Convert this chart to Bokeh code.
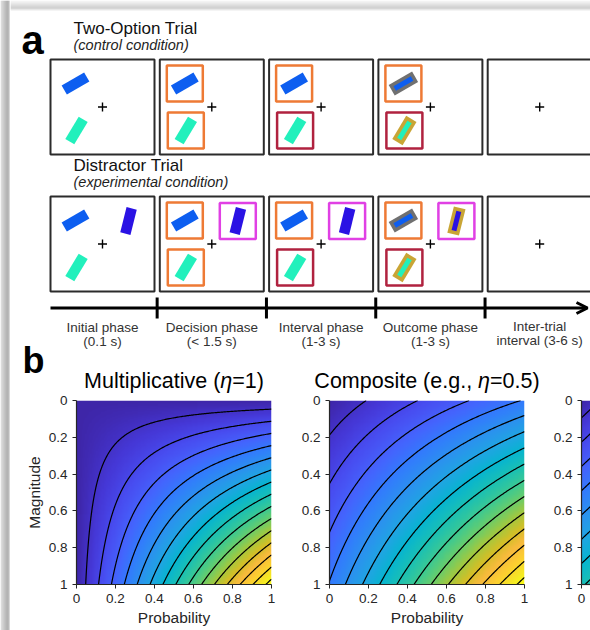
import numpy as np
from bokeh.plotting import figure
from bokeh.layouts import column, row
from bokeh.models import (Range1d, FixedTicker, NumeralTickFormatter, Arrow,
                          OpenHead, LinearColorMapper)
from bokeh.core.properties import value
from bokeh.embed import file_html
from bokeh.resources import INLINE

# ---------------- data ----------------
phase_names = ["Initial phase", "Decision phase", "Interval phase", "Outcome phase", "Inter-trial"]
phase_durations = ["(0.1 s)", "(< 1.5 s)", "(1-3 s)", "(1-3 s)", "interval (3-6 s)"]
trial_titles = ["Two-Option Trial", "Distractor Trial"]
trial_subtitles = ["(control condition)", "(experimental condition)"]

# stimulus state per phase
stim_visible = [True, True, True, True, False]
frame_chosen = [None, "orange", "orange", "orange", None]
frame_unchosen = [None, "orange", "darkred", "darkred", None]
frame_distractor = [None, "magenta", "magenta", "magenta", None]
outcome_shown = [False, False, False, True, False]

eta_values = [1.0, 0.5, 0.0]
# title pieces: (before, italic symbol, after)
panel_titles = [("Multiplicative (", "η", "=1)"), ("Composite (e.g., ", "η", "=0.5)"), None]
contour_levels = [0.047, 0.113, 0.179, 0.245, 0.311, 0.377, 0.443, 0.509,
                  0.575, 0.641, 0.707, 0.773, 0.839, 0.905, 0.971]
axis_ticks = [0, 0.2, 0.4, 0.6, 0.8, 1]

# ---------------- style ----------------
FONT = value("Liberation Sans")
COL = {"blue": "#0d5ef0", "teal": "#22f0bc", "purple": "#2a12e4",
       "orange": "#ee7a35", "darkred": "#b0223f", "magenta": "#e040e4",
       "gray": "#707070", "gold": "#c9a535"}
parula_stops = [
    (0.2422, 0.1504, 0.6603), (0.2706, 0.2147, 0.8364), (0.2813, 0.3006, 0.9414),
    (0.2699, 0.3892, 0.9906), (0.1963, 0.4847, 0.9892), (0.1687, 0.5703, 0.9359),
    (0.1248, 0.6459, 0.8883), (0.0297, 0.7082, 0.8163), (0.0964, 0.7500, 0.7120),
    (0.2161, 0.7843, 0.5923), (0.3909, 0.8029, 0.4354), (0.6174, 0.7876, 0.2612),
    (0.8203, 0.7498, 0.1535), (0.9728, 0.7298, 0.2394), (0.9892, 0.8136, 0.1885),
    (0.9597, 0.9135, 0.1423), (0.9769, 0.9839, 0.0805)]
stop_pos = [i * 4 / 63 for i in range(16)] + [1.0]
t = np.linspace(0, 1, 256)
arr = np.array(parula_stops)
rgb = np.stack([np.interp(t, stop_pos, arr[:, c]) for c in range(3)], axis=1)
parula = ["#%02x%02x%02x" % tuple(int(round(v * 255)) for v in c) for c in rgb]

# Liberation Sans advance widths (per em) for title layout
ADV = {"M": .833, "u": .556, "l": .222, "t": .278, "i": .222, "p": .556, "c": .5,
       "a": .556, "v": .5, "e": .556, " ": .278, "(": .333, ")": .333, "=": .584,
       "1": .556, "C": .722, "o": .556, "m": .833, "s": .5, "g": .556, ".": .278,
       ",": .278, "0": .556, "5": .556, "η": .556}


def text_w(s, size):
    return sum(ADV.get(ch, .556) for ch in s) * size


BASE_FIX = 0.33  # renderer places alphabetic baseline ~0.33em low


def by(baseline, size):
    return baseline - BASE_FIX * size


W_TOTAL, H_TOTAL = 590, 630
STRIP = 10
TOP_H = 394

# ---------------- drop shadow strip (left edge) ----------------
left_shade = [0.84, 0.80, 0.76, 0.72, 0.68, 0.64, 0.61, 0.60, 0.66, 0.86]
top_shade = [0.95, 0.93, 0.90, 0.87, 0.84, 0.81, 0.78, 0.76, 0.80, 0.92]
sh = figure(width=STRIP, height=H_TOTAL, x_range=Range1d(0, STRIP), y_range=Range1d(H_TOTAL, 0),
            x_axis_type=None, y_axis_type=None, output_backend="svg",
            toolbar_location=None, min_border=0)
sh.grid.visible = False
sh.outline_line_color = None
gcol = ["#%02x%02x%02x" % ((int(v * 255),) * 3) for v in left_shade]
sh.quad(left=list(range(STRIP)), right=list(range(1, STRIP + 1)), top=[0] * STRIP,
        bottom=[H_TOTAL] * STRIP, fill_color=gcol, line_color=None)

# ---------------- panel a ----------------
PX0, PX1, PY0, PY1 = STRIP, W_TOTAL, 0, TOP_H
pa = figure(width=PX1 - PX0, height=PY1 - PY0, x_range=Range1d(PX0, PX1),
            y_range=Range1d(PY1, PY0), x_axis_type=None, y_axis_type=None,
            output_backend="svg", toolbar_location=None, min_border=0)
pa.grid.visible = False
pa.outline_line_color = None
tcol = ["#%02x%02x%02x" % ((int(v * 255),) * 3) for v in top_shade]
pa.quad(left=[PX0] * 10, right=[PX1] * 10, top=list(range(10)), bottom=list(range(1, 11)),
        fill_color=tcol, line_color=None)

BOX_X0, PITCH, BOX_W, BOX_H = 50.0, 109.3, 104.0, 95.0
ROW_TOP = [59.0, 196.0]
STIM = {"chosen": (25, 24, 30, "blue", "gray"),
        "unchosen": (26, 71, 59, "teal", "gold"),
        "distractor": (78, 24.5, 76, "purple", "gold")}
FRAMES = {"chosen": frame_chosen, "unchosen": frame_unchosen, "distractor": frame_distractor}

txt = dict(text_font=FONT, text_baseline="alphabetic")
pa.text(x=[21], y=[by(53, 40)], text=["a"], text_font_size="40px", text_font_style="bold",
        text_color="black", **txt)
for r in range(2):
    ty = ROW_TOP[r]
    pa.text(x=[73], y=[by(ty - 25, 17)], text=[trial_titles[r]], text_font_size="17px",
            text_color="#111111", **txt)
    pa.text(x=[73], y=[by(ty - 9.5, 14.5)], text=[trial_subtitles[r]], text_font_size="14.5px",
            text_font_style="italic", text_color="#1e1e1e", **txt)
    stims = ["chosen", "unchosen"] + (["distractor"] if r == 1 else [])
    for k in range(len(phase_names)):
        left = BOX_X0 + k * PITCH
        pa.rect(x=[left + BOX_W / 2], y=[ty + BOX_H / 2], width=BOX_W, height=BOX_H,
                fill_color=None, line_color="#2b2b2b", line_width=2)
        pa.scatter(x=[left + BOX_W / 2], y=[ty + BOX_H / 2], marker="cross", size=9,
                   line_color="black", line_width=1.4)
        if not stim_visible[k]:
            continue
        for s in stims:
            rx, ry, ang, c, oc = STIM[s]
            cx, cy = left + rx, ty + ry
            fr = FRAMES[s][k]
            if fr:
                pa.rect(x=[cx], y=[cy], width=36, height=36, fill_color=None,
                        line_color=COL[fr], line_width=2.5)
            if outcome_shown[k]:
                pa.rect(x=[cx], y=[cy], width=27, height=12, angle=ang, angle_units="deg",
                        fill_color=COL[oc], line_color=None)
                pa.rect(x=[cx], y=[cy], width=20, height=5, angle=ang, angle_units="deg",
                        fill_color=COL[c], line_color=None)
            else:
                pa.rect(x=[cx], y=[cy], width=26, height=10.5, angle=ang, angle_units="deg",
                        fill_color=COL[c], line_color=None)

# timeline
TL_Y = 307.5
pa.add_layout(Arrow(end=OpenHead(size=11, line_width=3, line_color="black"),
                    x_start=BOX_X0, y_start=TL_Y, x_end=587, y_end=TL_Y,
                    line_width=3, line_color="black"))
gap = PITCH - BOX_W
tick_x = [BOX_X0 + (k + 1) * PITCH - gap / 2 for k in range(len(phase_names) - 1)]
pa.segment(x0=tick_x, y0=[TL_Y - 10.5] * len(tick_x), x1=tick_x, y1=[TL_Y + 10.5] * len(tick_x),
           line_color="black", line_width=3)
centers = [BOX_X0 + k * PITCH + BOX_W / 2 for k in range(len(phase_names))]
PH_SIZE = 13.5
line1_y = [by(v, PH_SIZE) for v in [331.5, 331.5, 331.5, 331.5, 330]]
line2_y = [by(v, PH_SIZE) for v in [345.5, 345.5, 345.5, 345.5, 344]]
pa.text(x=centers, y=line1_y, text=phase_names, text_font_size=f"{PH_SIZE}px",
        text_align="center", text_color="#333333", **txt)
pa.text(x=centers, y=line2_y, text=phase_durations, text_font_size=f"{PH_SIZE}px",
        text_align="center", text_color="#333333", **txt)

# ---------------- panel b ----------------
pa.text(x=[22], y=[by(372, 36)], text=["b"], text_font_size="36px", text_font_style="bold",
        text_color="black", **txt)

grid = np.linspace(0, 1, 161)
P, M = np.meshgrid(grid, grid)


def value_surface(eta):
    return eta * P * M + (1 - eta) * (P + M) / 2


FRAME_W, FRAME_H = 195, 184
BORDER_TOP, BORDER_BOTTOM = 400 - TOP_H, 46
layouts = [  # (border_left, border_right, x_end, frame_w)
    (66, 12, 1.0, FRAME_W),
    (46, 11, 1.0, FRAME_W),
    (46, 0, 9 / FRAME_W, 9),
]
TITLE_SIZE = 21.5
TITLE_BASE = 388
frame_left = STRIP
figs = []
for i, eta in enumerate(eta_values):
    bl, br, xend, fw = layouts[i]
    frame_left += bl
    if panel_titles[i]:
        pre, sym, post = panel_titles[i]
        total = text_w(pre + sym + post, TITLE_SIZE)
        x0 = frame_left + fw / 2 - total / 2
        x1 = x0 + text_w(pre, TITLE_SIZE)
        x2 = x1 + text_w(sym, TITLE_SIZE)
        ty_ = by(TITLE_BASE, TITLE_SIZE)
        pa.text(x=[x0, x2], y=[ty_] * 2, text=[pre, post],
                text_font_size=f"{TITLE_SIZE}px", text_color="black", **txt)
        pa.text(x=[x1], y=[ty_], text=[sym], text_font_size=f"{TITLE_SIZE}px",
                text_font_style="italic", text_color="black", **txt)
    frame_left += fw + br

    f = figure(frame_width=fw, frame_height=FRAME_H, x_range=Range1d(0, xend),
               y_range=Range1d(1, 0), output_backend="svg", toolbar_location=None,
               min_border_left=bl, min_border_right=br, min_border_top=BORDER_TOP,
               min_border_bottom=BORDER_BOTTOM)
    f.grid.visible = False
    f.outline_line_color = None
    Z = value_surface(eta)
    f.image(image=[Z], x=0, y=0, dw=1, dh=1,
            color_mapper=LinearColorMapper(palette=parula, low=0, high=1))
    f.contour(x=grid, y=grid, z=Z, levels=contour_levels, line_color="black", line_width=1.2)
    for ax in (f.xaxis[0], f.yaxis[0]):
        ax.ticker = FixedTicker(ticks=axis_ticks if i < 2 or ax is f.yaxis[0] else [0])
        ax.formatter = NumeralTickFormatter(format="0.[0]")
        ax.major_label_text_font = "Liberation Sans"
        ax.major_label_text_font_size = "13.5px"
        ax.major_label_text_color = "#262626"
        ax.axis_line_color = "#262626"
        ax.axis_line_width = 1.2
        ax.major_tick_line_color = "#262626"
        ax.major_tick_out = 4
        ax.major_tick_in = 0
        ax.minor_tick_out = 0
        ax.minor_tick_in = 0
        ax.major_label_standoff = 5
        ax.axis_label_text_font = "Liberation Sans"
        ax.axis_label_text_font_size = "15.5px"
        ax.axis_label_text_font_style = "normal"
        ax.axis_label_text_color = "#262626"
        ax.axis_label_standoff = 3
    if i < 2:
        f.xaxis.axis_label = "Probability"
    if i == 0:
        f.yaxis.axis_label = "Magnitude"
    figs.append(f)

layout = row(sh, column(pa, row(*figs, spacing=0), spacing=0), spacing=0)
open("out.html", "w").write(file_html(layout, INLINE))
